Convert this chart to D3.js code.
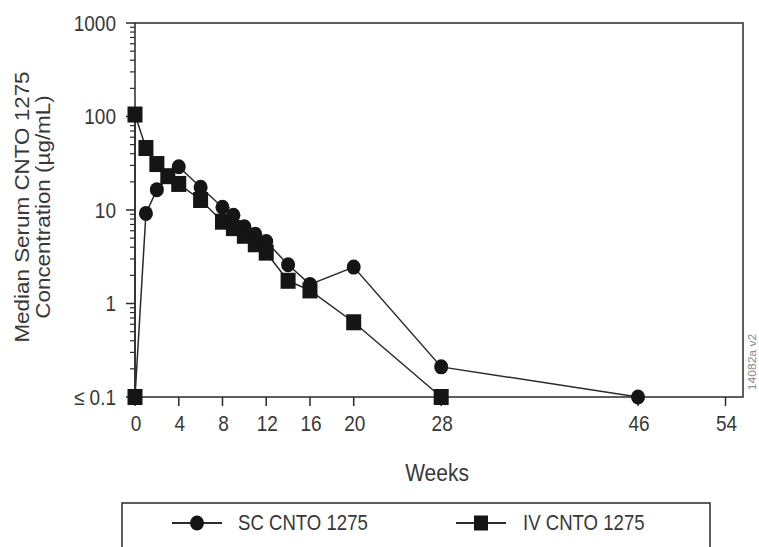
<!DOCTYPE html>
<html><head><meta charset="utf-8">
<script src="https://cdn.jsdelivr.net/npm/d3@7"></script>
<style>body{margin:0;background:#fff;} text{font-family:"Liberation Sans",Arial,sans-serif;fill:#383838;}</style>
</head><body><svg id="c" width="759" height="547"></svg>
<script>
const scWeeks = [0, 1, 2, 4, 6, 8, 9, 10, 11, 12, 14, 16, 20, 28, 46];
const scValues = [0.1, 9.2, 16.5, 29, 17.5, 10.7, 8.8, 6.6, 5.5, 4.6, 2.6, 1.6, 2.45, 0.21, 0.1];
const ivWeeks = [0, 0, 1, 2, 3, 4, 6, 8, 9, 10, 11, 12, 14, 16, 20, 28];
const ivValues = [0.1, 105, 46, 31, 23, 19, 12.8, 7.5, 6.4, 5.3, 4.3, 3.5, 1.75, 1.38, 0.63, 0.1];
const xTicks = [0, 4, 8, 12, 16, 20, 28, 46, 54];
const yTicks = [0.1, 1, 10, 100, 1000];
const yTickLabels = ["≤ 0.1", "1", "10", "100", "1000"];
const seriesNames = ["SC CNTO 1275", "IV CNTO 1275"];

const svg = d3.select("#c");
const pL = 135, pR = 743, pT = 23, pB = 397;
const x = d3.scaleLinear().domain([0, 55.6]).range([pL, pR]);
const y = d3.scaleLog().domain([0.1, 1000]).range([pB, pT]);
const ink = "#2a2a2a";
const S = 1.15; // vertical stretch of glyphs seen in the reference

function label(parent, tx, ty, str, size, anchor, rot) {
  const g = parent.append("g").attr("transform",
    rot ? `translate(${tx},${ty}) rotate(-90) scale(${S},1)` : `translate(${tx},${ty}) scale(1,${S})`);
  return g.append("text").attr("x",0).attr("y",0).attr("dy","0.35em")
    .attr("text-anchor", anchor).style("font-size", size+"px").text(str);
}

// frame
svg.append("rect").attr("x", pL).attr("y", pT).attr("width", pR-pL).attr("height", pB-pT)
  .attr("fill","none").attr("stroke", ink).attr("stroke-width",1.5);

// y axis with minor ticks
const minor = [];
for (let d = 0.1; d < 999; d *= 10) for (let k = 2; k <= 9; k++) minor.push(d*k);
const yg = svg.append("g").attr("transform", `translate(${pL},0)`);
yg.selectAll("line.mn").data(minor).enter().append("line").attr("class","mn")
  .attr("x1", -5).attr("x2", 0).attr("y1", d=>y(d)).attr("y2", d=>y(d)).attr("stroke", ink).attr("stroke-width",1.2);
yg.selectAll("line.mj").data(yTicks).enter().append("line").attr("class","mj")
  .attr("x1", -9).attr("x2", 0).attr("y1", d=>y(d)).attr("y2", d=>y(d)).attr("stroke", ink).attr("stroke-width",1.5);
yTicks.forEach((d,i)=> label(svg, pL-19, y(d), yTickLabels[i], 19, "end", false));

// x axis
const xg = svg.append("g").attr("transform", `translate(0,${pB})`);
xg.selectAll("line").data(xTicks).enter().append("line")
  .attr("x1", d=>x(d)).attr("x2", d=>x(d)).attr("y1", 0).attr("y2", 9).attr("stroke", ink).attr("stroke-width",1.5);
xTicks.forEach(d=> label(svg, x(d)+1, pB+26, String(d), 19, "middle", false));

// axis titles
label(svg, 437, 473, "Weeks", 21, "middle", false);
label(svg, 22, 207, "Median Serum CNTO 1275", 19.5, "middle", true);
label(svg, 43, 207, "Concentration (µg/mL)", 19.5, "middle", true);
label(svg, 752, 362, "14082a v2", 10.5, "middle", true).style("fill","#888");

// series
const line = d3.line().x(d=>x(d[0])).y(d=>y(d[1]));
const sc = scWeeks.map((w,i)=>[w, scValues[i]]);
const iv = ivWeeks.map((w,i)=>[w, ivValues[i]]);
svg.append("path").datum(sc).attr("d", line).attr("fill","none").attr("stroke", ink).attr("stroke-width",1.5);
svg.append("path").datum(iv).attr("d", line).attr("fill","none").attr("stroke", ink).attr("stroke-width",1.5);
svg.selectAll("ellipse.sc").data(sc).enter().append("ellipse").attr("class","sc")
  .attr("cx", d=>x(d[0])).attr("cy", d=>y(d[1])).attr("rx", 7).attr("ry", 7.5).attr("fill","#151515");
svg.selectAll("rect.iv").data(iv).enter().append("rect").attr("class","iv")
  .attr("x", d=>x(d[0])-7.5).attr("y", d=>y(d[1])-8).attr("width",15).attr("height",16).attr("fill","#151515");

// legend
svg.append("rect").attr("x",122).attr("y",503).attr("width",588).attr("height",60)
  .attr("fill","none").attr("stroke", ink).attr("stroke-width",1.5);
const ly = 523;
const lg = svg.append("g");
lg.append("line").attr("x1",172).attr("x2",222).attr("y1",ly).attr("y2",ly).attr("stroke",ink).attr("stroke-width",1.8);
lg.append("ellipse").attr("cx",197).attr("cy",ly).attr("rx",7).attr("ry",7.5).attr("fill","#151515");
label(lg, 238, ly, seriesNames[0], 18.6, "start", false);
lg.append("line").attr("x1",456).attr("x2",506).attr("y1",ly).attr("y2",ly).attr("stroke",ink).attr("stroke-width",1.8);
lg.append("rect").attr("x",474).attr("y",ly-7.5).attr("width",14).attr("height",15).attr("fill","#151515");
label(lg, 523, ly, seriesNames[1], 18.6, "start", false);
</script></body></html>
